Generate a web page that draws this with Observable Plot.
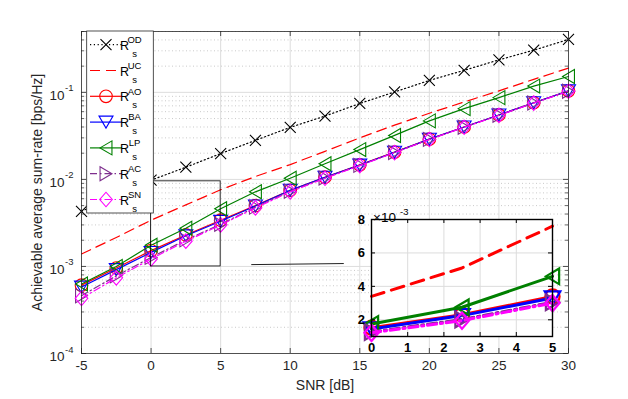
<!DOCTYPE html>
<html><head><meta charset="utf-8">
<script src="https://cdn.jsdelivr.net/npm/d3@7"></script>
<script src="https://cdn.jsdelivr.net/npm/@observablehq/plot@0.6"></script>
<style>
body{margin:0;background:#fff;}
#wrap{position:relative;width:628px;height:399px;overflow:hidden;background:#fff;}
#main{position:absolute;left:0;top:0;}
#inset{position:absolute;left:341px;top:189px;}
</style></head><body>
<div id="wrap"><div id="main"></div><div id="inset"></div></div>
<script>
// ---------- data ----------
const snr = [-5, -2.5, 0, 2.5, 5, 7.5, 10, 12.5, 15, 17.5, 20, 22.5, 25, 27.5, 30];
const rOD = [0.0043, 0.0066, 0.0098, 0.0138, 0.0198, 0.0281, 0.0396, 0.0534, 0.0745, 0.101, 0.137, 0.179, 0.236, 0.305, 0.405];
const rUC = [0.00139, 0.00215, 0.0034, 0.0051, 0.0076, 0.0108, 0.0148, 0.0210, 0.0300, 0.0420, 0.0575, 0.0775, 0.104, 0.141, 0.19];
const rAO = [0.00061, 0.00096, 0.00152, 0.0023, 0.0034, 0.0050, 0.0075, 0.0106, 0.0147, 0.0206, 0.029, 0.040, 0.055, 0.076, 0.104];
const rBA = [0.00058, 0.00092, 0.00145, 0.00225, 0.0033, 0.00495, 0.0075, 0.0106, 0.0146, 0.0205, 0.029, 0.040, 0.055, 0.076, 0.104];
const rLP = [0.00063, 0.0010, 0.00175, 0.00275, 0.0046, 0.0072, 0.0103, 0.0151, 0.022, 0.032, 0.047, 0.065, 0.087, 0.118, 0.152];
const rAC = [0.00046, 0.00078, 0.00127, 0.00202, 0.00305, 0.0048, 0.0073, 0.0104, 0.0145, 0.0204, 0.0288, 0.0398, 0.0545, 0.0755, 0.103];
const rSN = [0.00043, 0.00074, 0.00122, 0.00195, 0.0030, 0.0047, 0.0072, 0.0103, 0.0144, 0.0203, 0.0287, 0.0397, 0.0543, 0.0753, 0.103];

const xTicks = [-5, 0, 5, 10, 15, 20, 25, 30];
const xGrid = [0, 5, 10, 15, 20, 25];
const yDecades = [1e-4, 1e-3, 1e-2, 1e-1];
const yExponents = ["-4", "-3", "-2", "-1"];
const yDomain = [1e-4, 0.5];
const zoomBox = [{x1: 0, x2: 5, y1: 0.001, y2: 0.0095}];
const connector = [{x1: 7.2, y1: 0.00105, x2: 13.85, y2: 0.00108}];

const insetDomainX = [0, 5];
const insetDomainY = [1, 8];
const insetXTicks = [0, 1, 2, 3, 4, 5];
const insetYTicks = [2, 4, 6, 8];
const insetScale = 1000;

const xLabel = "SNR [dB]";
const yLabel = "Achievable average sum-rate [bps/Hz]";

// ---------- symbols ----------
function sym(fn){return {draw(c, size){const s = Math.sqrt(size/Math.PI); fn(c, s);}};}
const xMark = sym((c,s)=>{c.moveTo(-s,-s);c.lineTo(s,s);c.moveTo(-s,s);c.lineTo(s,-s);});
const circ = sym((c,s)=>{c.moveTo(s,0);c.arc(0,0,s,0,2*Math.PI);c.closePath();});
const triDown = sym((c,s)=>{const h=s*0.85;c.moveTo(-s,-h);c.lineTo(s,-h);c.lineTo(0,h);c.closePath();});
const triLeft = sym((c,s)=>{const h=s*0.85;c.moveTo(-h,0);c.lineTo(h,-s);c.lineTo(h,s);c.closePath();});
const triRight = sym((c,s)=>{const h=s*0.85;c.moveTo(h,0);c.lineTo(-h,-s);c.lineTo(-h,s);c.closePath();});
const diamond = sym((c,s)=>{c.moveTo(0,-s*1.15);c.lineTo(s,0);c.lineTo(0,s*1.15);c.lineTo(-s,0);c.closePath();});

const series = [
  {name:"OD", values:rOD, color:"#000000", dash:"1.2,2.6", symbol:xMark, r:5.5},
  {name:"UC", values:rUC, color:"#ff0000", dash:"10,6", symbol:null, r:0},
  {name:"AO", values:rAO, color:"#ff0000", dash:null, symbol:circ, r:6.3},
  {name:"BA", values:rBA, color:"#0000ff", dash:null, symbol:triDown, r:7},
  {name:"LP", values:rLP, color:"#008000", dash:null, symbol:triLeft, r:7},
  {name:"AC", values:rAC, color:"#7e2f8e", dash:"7,3,1.5,3", symbol:triRight, r:7},
  {name:"SN", values:rSN, color:"#ff00ff", dash:"7,3,1.5,3", symbol:diamond, r:6.3}
];

const FONT = "'Liberation Sans', Arial, Helvetica, sans-serif";
const AX = "#262626";

// minor log ticks
const minorY = [];
for (let e = -4; e <= -1; e++) for (let m = 2; m <= 9; m++) { const v = m * Math.pow(10, e); if (v <= yDomain[1]) minorY.push(v); }

const W = 628, H = 399, mL = 81, mR = 60, mT = 31, mB = 46;
const FW = W - mL - mR, FH = H - mT - mB;

const seriesMarks = [];
for (const s of series) {
  const rows = snr.map((x, i) => ({x, y: s.values[i]}));
  seriesMarks.push(Plot.line(rows, {x:"x", y:"y", stroke:s.color, strokeWidth:1.2, strokeDasharray:s.dash || undefined}));
  if (s.symbol) seriesMarks.push(Plot.dot(rows, {x:"x", y:"y", symbol:s.symbol, r:s.r, stroke:s.color, fill:"none", strokeWidth:1.1}));
}

const main = Plot.plot({
  width: W, height: H, marginLeft: mL, marginRight: mR, marginTop: mT, marginBottom: mB,
  x: {domain: [-5, 30], axis: null},
  y: {type: "log", domain: yDomain, axis: null},
  style: {fontFamily: FONT, background: "white", overflow: "visible"},
  marks: [
    Plot.ruleY(minorY, {y: d => d, stroke: "#bdbdbd", strokeDasharray: "1,2.5", strokeWidth: 0.8}),
    Plot.ruleY(yDecades.slice(1), {y: d => d, stroke: "#dddddd", strokeWidth: 1}),
    Plot.ruleX(xGrid, {x: d => d, stroke: "#dddddd", strokeWidth: 1}),
    ...seriesMarks,
    Plot.rect(zoomBox, {x1:"x1", x2:"x2", y1:"y1", y2:"y2", stroke:"#000", strokeWidth:0.8, fill:"none"}),
    Plot.link(connector, {x1:"x1", y1:"y1", x2:"x2", y2:"y2", stroke:"#222", strokeWidth:1}),
    Plot.tickX(xTicks, {x: d => d, insetTop: FH - 5, stroke: AX, strokeWidth: 0.8}),
    Plot.tickX(xTicks, {x: d => d, insetBottom: FH - 5, stroke: AX, strokeWidth: 0.8}),
    Plot.tickY(yDecades, {y: d => d, insetRight: FW - 5, stroke: AX, strokeWidth: 0.8}),
    Plot.tickY(yDecades, {y: d => d, insetLeft: FW - 5, stroke: AX, strokeWidth: 0.8}),
    Plot.tickY(minorY, {y: d => d, insetRight: FW - 3, stroke: AX, strokeWidth: 0.7}),
    Plot.tickY(minorY, {y: d => d, insetLeft: FW - 3, stroke: AX, strokeWidth: 0.7}),
    Plot.frame({stroke: AX, strokeWidth: 0.8}),
    Plot.text(xTicks, {x: d => d, text: d => String(d), frameAnchor: "bottom", dy: 16, fontSize: 13.5, fill: AX}),
    Plot.text(yDecades, {y: d => d, text: () => "10", frameAnchor: "left", dx: -17, dy: 3, textAnchor: "end", fontSize: 13.5, fill: AX}),
    Plot.text(yDecades, {y: d => d, text: (d, i) => yExponents[i], frameAnchor: "left", dx: -16.5, dy: -4, textAnchor: "start", fontSize: 9.5, fill: AX}),
    Plot.text([xLabel], {text: d => d, frameAnchor: "bottom", dy: 36, fontSize: 14, fill: AX}),
    Plot.text([yLabel], {text: d => d, frameAnchor: "left", dx: -44, rotate: -90, textAnchor: "middle", fontSize: 14, fill: AX})
  ]
});
document.getElementById("main").appendChild(main);

// legend
const svg = d3.select(main);
const lg = svg.append("g").attr("font-family", FONT);
lg.append("rect").attr("x", 86.7).attr("y", 31).attr("width", 66.6).attr("height", 182)
  .attr("fill", "white").attr("stroke", AX).attr("stroke-width", 0.8);
series.forEach((s, i) => {
  const y = 44.7 + i * 25.8;
  lg.append("line").attr("x1", 90).attr("x2", 122).attr("y1", y).attr("y2", y)
    .attr("stroke", s.color).attr("stroke-width", 1.2).attr("stroke-dasharray", s.dash || null);
  if (s.symbol) {
    const p = d3.path(); s.symbol.draw(p, Math.PI * s.r * s.r);
    lg.append("path").attr("d", p.toString()).attr("transform", `translate(106,${y})`)
      .attr("fill", "none").attr("stroke", s.color).attr("stroke-width", 1.1);
  }
  lg.append("text").attr("x", 124.5).attr("y", y + 0.8).attr("dy", "0.35em").attr("font-size", 12.5).attr("fill", "#000").text("R");
  lg.append("text").attr("x", 134.5).attr("y", y - 5).attr("dy", "0.35em").attr("font-size", 9.5).attr("fill", "#000").text(s.name);
  lg.append("text").attr("x", 134.5).attr("y", y + 8.8).attr("dy", "0.35em").attr("font-size", 9.5).attr("fill", "#000").text("s");
});

// ---------- inset ----------
const insetMarks = [];
for (const s of series) {
  if (s.name === "OD") continue;
  const rows = snr.map((x, i) => ({x, y: s.values[i] * insetScale})).filter(d => d.x >= insetDomainX[0] && d.x <= insetDomainX[1]);
  const dash = s.dash ? s.dash.split(",").map(v => +v * 1.3).join(",") : undefined;
  insetMarks.push(Plot.line(rows, {x:"x", y:"y", stroke:s.color, strokeWidth:3, strokeDasharray:dash}));
  if (s.symbol) insetMarks.push(Plot.dot(rows, {x:"x", y:"y", symbol:s.symbol, r:s.r + 0.8, stroke:s.color, fill:"none", strokeWidth:2.2}));
}
const iW = 229, iH = 172, iL = 30, iR = 18, iT = 30, iB = 25;
const iFW = iW - iL - iR, iFH = iH - iT - iB;
const inset = Plot.plot({
  width: iW, height: iH, marginLeft: iL, marginRight: iR, marginTop: iT, marginBottom: iB,
  x: {domain: insetDomainX, axis: null},
  y: {domain: insetDomainY, axis: null},
  style: {fontFamily: FONT, background: "transparent", overflow: "visible"},
  marks: [
    Plot.frame({fill: "white", stroke: "none"}),
    Plot.ruleX(insetXTicks.slice(1, -1), {x: d => d, stroke: "#dcdcdc", strokeWidth: 1}),
    Plot.ruleY(insetYTicks.slice(0, -1), {y: d => d, stroke: "#dcdcdc", strokeWidth: 1}),
    ...insetMarks,
    Plot.tickX(insetXTicks, {x: d => d, insetTop: iFH - 4, stroke: "#000", strokeWidth: 1}),
    Plot.tickX(insetXTicks, {x: d => d, insetBottom: iFH - 4, stroke: "#000", strokeWidth: 1}),
    Plot.tickY(insetYTicks, {y: d => d, insetRight: iFW - 4, stroke: "#000", strokeWidth: 1}),
    Plot.tickY(insetYTicks, {y: d => d, insetLeft: iFW - 4, stroke: "#000", strokeWidth: 1}),
    Plot.frame({stroke: "#000", strokeWidth: 1.4}),
    Plot.text(insetXTicks, {x: d => d, text: d => String(d), frameAnchor: "bottom", dy: 15.5, fontSize: 13, fontWeight: "bold", fill: "#000"}),
    Plot.text(insetYTicks, {y: d => d, text: d => String(d), frameAnchor: "left", dx: -6.5, textAnchor: "end", fontSize: 13, fontWeight: "bold", fill: "#000"}),
    Plot.text(["×10"], {text: d => d, frameAnchor: "top-left", dx: 1.5, dy: -7.5, textAnchor: "start", fontSize: 13.5, fill: "#000"}),
    Plot.text(["-3"], {text: d => d, frameAnchor: "top-left", dx: 28.5, dy: -11.5, textAnchor: "start", fontSize: 9.5, fill: "#000"})
  ]
});
document.getElementById("inset").appendChild(inset);
</script>
</body></html>
